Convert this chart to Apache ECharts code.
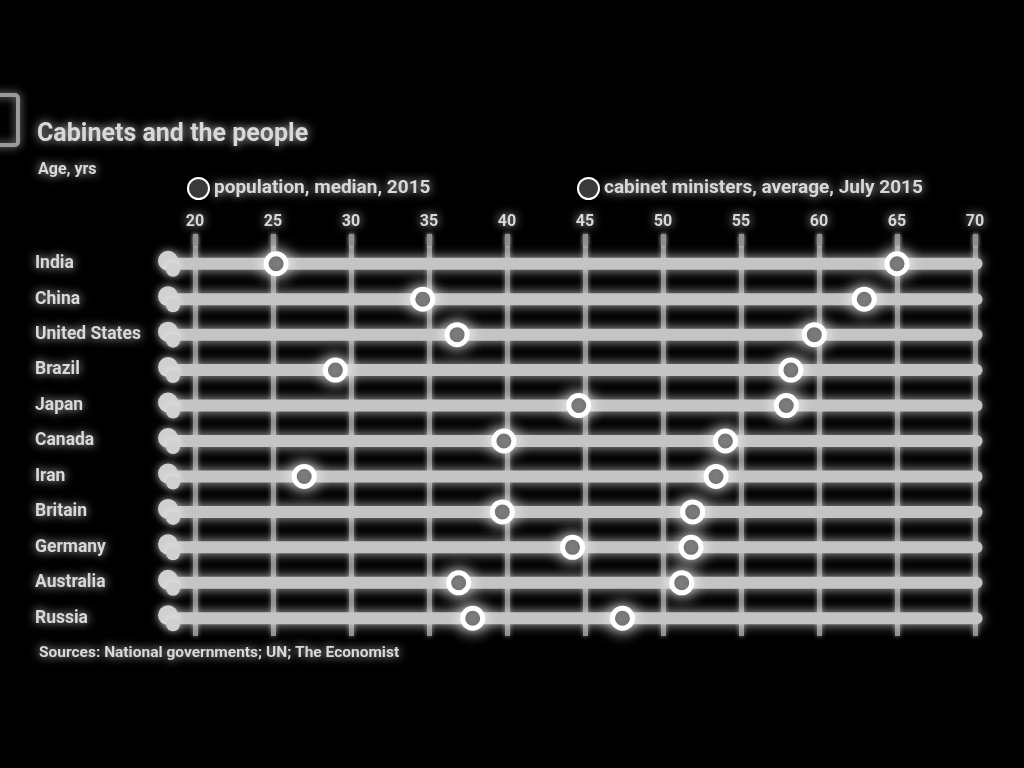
<!DOCTYPE html>
<html><head><meta charset="utf-8">
<script src="https://cdn.jsdelivr.net/npm/echarts@6/dist/echarts.min.js"></script>
<style>html,body{margin:0;padding:0;background:#000;}#c{width:1024px;height:768px;}</style>
</head><body><div id="c"></div>
<script>
const countries = ['India','China','United States','Brazil','Japan','Canada','Iran','Britain','Germany','Australia','Russia'];
const populationMedian = [25.2, 34.6, 36.8, 29.0, 44.6, 39.8, 27.0, 39.7, 44.2, 36.9, 37.8];
const cabinetAverage = [65.0, 62.9, 59.7, 58.2, 57.9, 54.0, 53.4, 51.9, 51.8, 51.2, 47.4];
const trackRange = [18.4, 70.1];
const xTicks = [20, 25, 30, 35, 40, 45, 50, 55, 60, 65, 70];
const popName = 'population, median, 2015';
const cabName = 'cabinet ministers, average, July 2015';

const glow = {shadowColor:'rgba(255,255,255,0.8)', shadowBlur:10};
const txt = (size, weight) => ({color:'#d9d9d9', fontFamily:'Roboto, "DejaVu Sans", sans-serif', fontSize:size, fontWeight:weight||'bold', textShadowColor:'rgba(255,255,255,0.8)', textShadowBlur:10});

const chart = echarts.init(document.getElementById('c'));
chart.setOption({
  backgroundColor:'#000',
  animation:false,
  title:[
    {text:'Cabinets and the people', left:32, top:117, textStyle:txt(25)},
    {text:'Age, yrs', left:33, top:157, textStyle:txt(16)},
    {text:'Sources: National governments; UN; The Economist', left:34, top:640, textStyle:txt(15.5)}
  ],
  graphic:[
    {type:'rect', shape:{x:-14, y:95, width:32, height:50, r:3}, style:{fill:'none', stroke:'#9a9a9a', lineWidth:4, shadowColor:'rgba(255,255,255,0.6)', shadowBlur:8}}
  ],
  legend:[
    {data:[popName], left:182, top:172, itemWidth:21, itemHeight:21, itemGap:4, textStyle:txt(19)},
    {data:[cabName], left:572, top:172, itemWidth:21, itemHeight:21, itemGap:4, textStyle:txt(19)}
  ],
  grid:{left:195, right:49, top:246, height:390},
  xAxis:{
    type:'value', position:'top', min:20, max:70, interval:5,
    axisLine:{show:false},
    axisTick:{show:true, length:12, lineStyle:{color:'#8f8f8f', width:5, ...glow, shadowBlur:4}},
    axisLabel:{margin:16, ...txt(16), formatter:v => xTicks.includes(v) ? String(v) : ''},
    splitLine:{show:true, lineStyle:{color:'#8f8f8f', width:5, shadowColor:'rgba(255,255,255,0.5)', shadowBlur:5}}
  },
  yAxis:{
    type:'category', data:countries, inverse:true,
    axisLine:{show:false}, axisTick:{show:false}, splitLine:{show:false},
    axisLabel:{align:'left', margin:160, ...txt(17.5)}
  },
  series:[
    {
      type:'custom', name:'track', silent:true, clip:false, z:2,
      data: countries.map((c,i)=>[i]),
      renderItem:(params, api)=>{
        const i = api.value(0);
        const a = api.coord([trackRange[0], countries[i]]);
        const b = api.coord([trackRange[1], countries[i]]);
        return {type:'group', children:[
          {type:'line', shape:{x1:a[0], y1:a[1], x2:b[0], y2:b[1]},
           style:{stroke:'#c4c4c4', lineWidth:12, lineCap:'round', shadowColor:'rgba(255,255,255,0.7)', shadowBlur:12}},
          {type:'circle', shape:{cx:a[0]-2, cy:a[1]-3, r:10},
           style:{fill:'#d0d0d0', shadowColor:'rgba(255,255,255,0.6)', shadowBlur:8}},
          {type:'circle', shape:{cx:a[0]+3, cy:a[1]+6, r:7},
           style:{fill:'#d0d0d0', shadowColor:'rgba(255,255,255,0.6)', shadowBlur:8}}
        ]};
      }
    },
    {
      type:'scatter', name:popName, z:5, symbol:'circle', symbolSize:20,
      data: populationMedian.map((v,i)=>[v, countries[i]]),
      itemStyle:{color:'#3a3a3a', borderColor:'#ffffff', borderWidth:5, shadowColor:'rgba(255,255,255,0.9)', shadowBlur:16, opacity:1}
    },
    {
      type:'scatter', name:cabName, z:5, symbol:'circle', symbolSize:20,
      data: cabinetAverage.map((v,i)=>[v, countries[i]]),
      itemStyle:{color:'#3a3a3a', borderColor:'#ffffff', borderWidth:5, shadowColor:'rgba(255,255,255,0.9)', shadowBlur:16, opacity:1}
    }
  ]
});
</script></body></html>
